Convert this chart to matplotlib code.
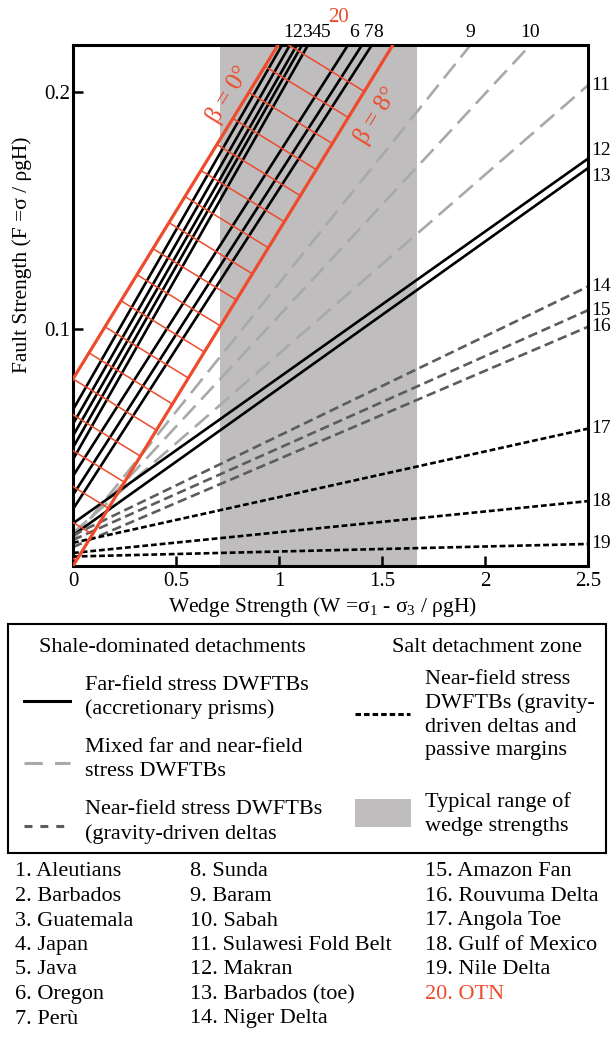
import numpy as np
import matplotlib.pyplot as plt
from matplotlib.patches import Rectangle
from matplotlib.lines import Line2D

plt.rcParams['font.family'] = ['Liberation Serif', 'DejaVu Serif']
plt.rcParams['mathtext.fontset'] = 'custom'
plt.rcParams['mathtext.rm'] = 'Liberation Serif'
plt.rcParams['mathtext.it'] = 'Liberation Serif:italic'

# far-field wedges 1-8: fault strength at W=0 and W where the line leaves the top (F=0.22)
steep_ids = ['1', '2', '3', '4', '5', '6', '7', '8']
steep_f0 = [0.066, 0.060, 0.055, 0.050, 0.045, 0.038, 0.030, 0.024]
steep_wtop = [1.015, 1.053, 1.087, 1.112, 1.141, 1.335, 1.403, 1.451]

# mixed wedges leaving through the top
mixed_ids = ['9', '10']
mixed_f0 = [0.011, 0.012]
mixed_wtop = [1.93, 2.22]

# wedges reaching the right edge (W = 2.5)
right_ids = ['11', '12', '13', '14', '15', '16', '17', '18', '19']
right_f0 = [0.014, 0.018, 0.013, 0.013, 0.011, 0.008, 0.0098, 0.0055, 0.004]
right_fend = [0.203, 0.172, 0.168, 0.118, 0.108, 0.101, 0.058, 0.0274, 0.0093]
right_kind = ['mixed', 'far', 'far', 'near', 'near', 'near', 'salt', 'salt', 'salt']

# OTN band (beta = 0 and beta = 8 deg), same slope
band_f0 = [0.079, 0.0]
band_slope = 0.1417
band_step = 0.011  # spacing of the cross lines along the beta=0 edge

wedge_range = [0.715, 1.67]

names = ['1. Aleutians', '2. Barbados', '3. Guatemala', '4. Japan', '5. Java',
         '6. Oregon', '7. Perù', '8. Sunda', '9. Baram', '10. Sabah',
         '11. Sulawesi Fold Belt', '12. Makran', '13. Barbados (toe)',
         '14. Niger Delta', '15. Amazon Fan', '16. Rouvuma Delta',
         '17. Angola Toe', '18. Gulf of Mexico', '19. Nile Delta', '20. OTN']

RED = '#ee4a2c'
styles = {
    'far': dict(color='black', lw=1.9, ls='-'),
    'mixed': dict(color='#a9a9a9', lw=1.9, ls=(0, (7, 3.2))),
    'near': dict(color='#5c5c5c', lw=1.9, ls=(0, (3.6, 1.8))),
    'salt': dict(color='black', lw=1.9, ls=(0, (2.2, 1.1))),
}

W, H = 613, 1045
fig = plt.figure(figsize=(W / 100, H / 100), dpi=100)
x0, x1, y0, y1 = 73, 588, 45, 566
ax = fig.add_axes([x0 / W, 1 - y1 / H, (x1 - x0) / W, (y1 - y0) / H])
ax.set_xlim(0, 2.5)
ax.set_ylim(0, 0.22)

ax.axvspan(wedge_range[0], wedge_range[1], color='#bfbdbd', lw=0, zorder=0)

for f0, wt in zip(steep_f0, steep_wtop):
    ax.plot([0, wt], [f0, 0.22], solid_capstyle='butt', **styles['far'])
for f0, wt in zip(mixed_f0, mixed_wtop):
    ax.plot([0, wt], [f0, 0.22], dash_capstyle='butt', **styles['mixed'])
for f0, fe, k in zip(right_f0, right_fend, right_kind):
    ax.plot([0, 2.5], [f0, fe], dash_capstyle='butt', **styles[k])

# OTN band with cross hatching perpendicular on screen
sx = (x1 - x0) / 2.5
sy = (y1 - y0) / 0.22
m = band_slope * sy / sx
for f0 in band_f0:
    ax.plot([0, 2.5], [f0, f0 + band_slope * 2.5], color=RED, lw=2.3, zorder=5)
s = (band_f0[0] - band_f0[1]) * sy / (1 + m * m)
for k in range(-5, 14):
    fp = band_f0[0] + k * band_step
    wp = (fp - band_f0[0]) / band_slope
    ax.plot([wp, wp + s * m / sx], [fp, fp - s / sy], color=RED, lw=1.1, zorder=5)

ang = np.degrees(np.arctan(m))
ax.text(0.755, 0.199, 'β = 0°', color=RED, fontsize=18, rotation=ang,
        ha='center', va='center', rotation_mode='anchor')
ax.text(1.475, 0.190, 'β = 8°', color=RED, fontsize=18, rotation=ang,
        ha='center', va='center', rotation_mode='anchor')

# labels on the top edge
top_w = steep_wtop[:5]
for i, lab in enumerate(steep_ids[:5]):
    ax.text(top_w[0] + 0.03 + i * 0.045, 0.2215, lab, fontsize=14, ha='center',
            va='bottom', clip_on=False)
for lab, wt in zip(steep_ids[5:], steep_wtop[5:]):
    ax.text(wt + 0.03, 0.2215, lab, fontsize=14, ha='center', va='bottom', clip_on=False)
for lab, wt in zip(mixed_ids, mixed_wtop):
    ax.text(wt, 0.2215, lab, fontsize=14, ha='center', va='bottom', clip_on=False)
ax.text(1.29, 0.2275, '20', fontsize=15, color=RED, ha='center', va='bottom', clip_on=False)
nudge = {'12': 0.0035, '13': -0.0035}
for lab, fe in zip(right_ids, right_fend):
    ax.text(2.515, fe + nudge.get(lab, 0), lab, fontsize=14, ha='left', va='center',
            clip_on=False)
for spine in ax.spines.values():
    spine.set_linewidth(2.2)

ax.set_xticks([0, 0.5, 1, 1.5, 2, 2.5])
ax.set_xticklabels(['0', '0.5', '1', '1.5', '2', '2.5'])
ax.set_yticks([0.1, 0.2])
ax.set_yticklabels(['0.1', '0.2'])
ax.tick_params(direction='in', length=7, width=1.8, labelsize=15, pad=4)
ax.tick_params(axis='y', direction='in', pad=2)
fig.text(322 / W, 1 - 607 / H, 'Wedge Strength (W =σ$_1$ - σ$_3$ / ρgH)', fontsize=15.5,
         ha='center', va='center')
fig.text(22 / W, 1 - 255 / H, 'Fault Strength (F =σ / ρgH)', fontsize=15.5,
         rotation=90, ha='center', va='center')

# legend box and station list, drawn in pixel coordinates
lx = fig.add_axes([0, 0, 1, 1])
lx.set_xlim(0, W)
lx.set_ylim(H, 0)
lx.axis('off')
lx.add_patch(Rectangle((8, 624), 598, 229, fill=False, lw=1.5, ec='black'))
fs = 16
lx.text(172, 648, 'Shale-dominated detachments', fontsize=fs, ha='center', va='center')
lx.text(487, 648, 'Salt detachment zone', fontsize=fs, ha='center', va='center')

sample_ls = {'far': '-', 'mixed': (0, (6, 4)), 'near': (0, (2.6, 2.6))}
left_items = [('far', ['Far-field stress DWFTBs', '(accretionary prisms)'], 697),
              ('mixed', ['Mixed far and near-field', 'stress DWFTBs'], 759),
              ('near', ['Near-field stress DWFTBs', '(gravity-driven deltas'], 822)]
for kind, lines, yc in left_items:
    lx.add_line(Line2D([24, 70], [yc + 4, yc + 4], color=styles[kind]['color'], lw=2.2,
                       ls=sample_ls[kind]))
    lx.text(85, yc - 12, lines[0], fontsize=fs, va='center')
    lx.text(85, yc + 12, lines[1], fontsize=fs, va='center')

lx.add_line(Line2D([355, 410], [714, 714], color='black', lw=2.2, ls=(0, (1.8, 1.0))))
for i, t in enumerate(['Near-field stress', 'DWFTBs (gravity-', 'driven deltas and',
                       'passive margins']):
    lx.text(425, 679 + i * 24, t, fontsize=fs, va='center')
lx.add_patch(Rectangle((355, 799), 56, 28, color='#bfbdbd', lw=0))
lx.text(425, 802, 'Typical range of', fontsize=fs, va='center')
lx.text(425, 826, 'wedge strengths', fontsize=fs, va='center')

col_x = [15, 190, 425]
for i, nm in enumerate(names):
    c, r = divmod(i, 7)
    lx.text(col_x[c], 872 + r * 24.5, nm, fontsize=fs, va='center',
            color=RED if nm.startswith('20') else 'black')

fig.savefig('out.png', dpi=100)
